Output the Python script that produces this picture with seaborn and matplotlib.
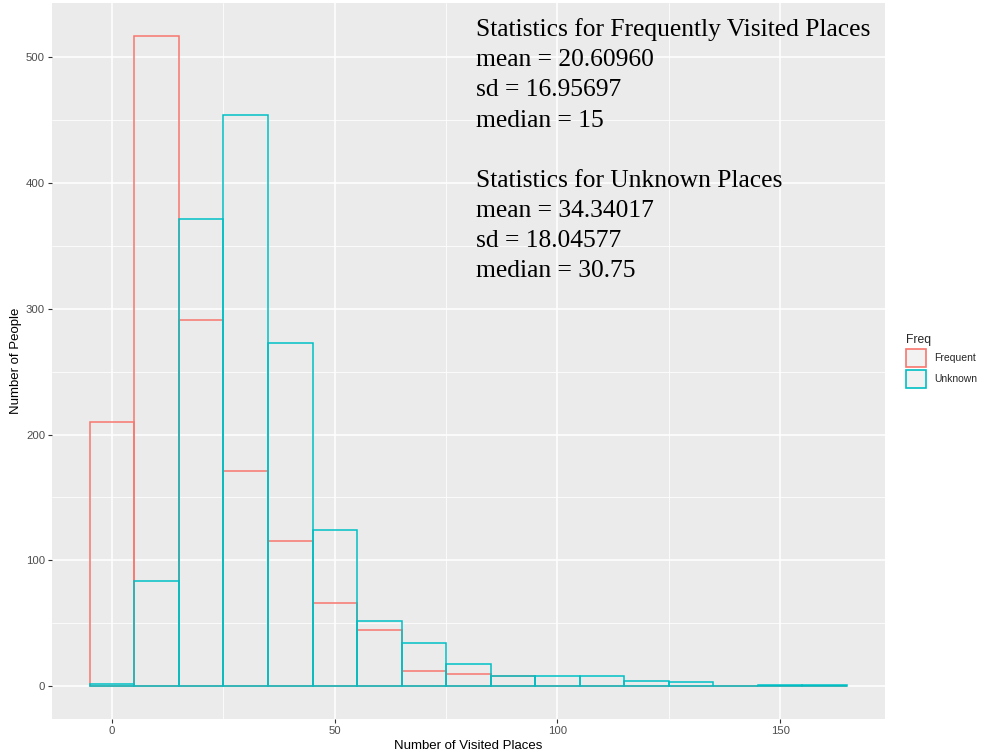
import matplotlib
matplotlib.use("Agg")
import matplotlib.pyplot as plt
import seaborn as sns
import numpy as np
import pandas as pd
from matplotlib.patches import Patch
from matplotlib.ticker import MultipleLocator

bin_centers = [0, 10, 20, 30, 40, 50, 60, 70, 80, 90, 100, 110, 120, 130, 140, 150, 160]
frequent_counts = [210, 517, 291, 171, 115, 66, 45, 12, 10, 8, 0, 0, 0, 0, 0, 0, 0]
unknown_counts = [2, 84, 371, 454, 273, 124, 52, 34, 18, 8, 8, 8, 4, 3, 0, 1, 1]
series_names = ["Frequent", "Unknown"]
series_colors = ["#F8766D", "#00BFC4"]
x_ticks = [0, 50, 100, 150]
y_ticks = [0, 100, 200, 300, 400, 500]

stats_text = ("Statistics for Frequently Visited Places\n"
              "mean = 20.60960\n"
              "sd = 16.95697\n"
              "median = 15\n"
              "\n"
              "Statistics for Unknown Places\n"
              "mean = 34.34017\n"
              "sd = 18.04577\n"
              "median = 30.75")

df = pd.DataFrame({
    "x": bin_centers * 2,
    "count": frequent_counts + unknown_counts,
    "Freq": [series_names[0]] * len(bin_centers) + [series_names[1]] * len(bin_centers),
})

sns.set_theme(style="darkgrid")
plt.rcParams["font.family"] = ["Liberation Sans", "DejaVu Sans"]

fig = plt.figure(figsize=(9.82, 7.55), dpi=100)
ax = fig.add_axes([0.053, 0.048, 0.848, 0.948])
ax.set_facecolor("#EBEBEB")

for name, col in zip(series_names, series_colors):
    sub = df[df["Freq"] == name]
    sns.histplot(data=sub, x="x", weights="count", binwidth=10, binrange=(-5, 165),
                 fill=False, element="bars", color=col, linewidth=1.1, ax=ax)

ax.set_xlim(-13.5, 173.5)
ax.set_ylim(-25.85, 542.85)
ax.set_xticks(x_ticks)
ax.set_yticks(y_ticks)
ax.xaxis.set_minor_locator(MultipleLocator(25))
ax.yaxis.set_minor_locator(MultipleLocator(50))
ax.grid(which="major", color="white", linewidth=1.1)
ax.grid(which="minor", color="white", linewidth=0.55)
ax.set_axisbelow(True)
for s in ax.spines.values():
    s.set_visible(False)
ax.tick_params(axis="both", which="major", length=3, width=0.8, color="#333333",
               labelsize=8.2, labelcolor="#4D4D4D", pad=2, bottom=True, left=True)
ax.tick_params(axis="both", which="minor", length=0)

ax.set_xlabel("Number of Visited Places", fontsize=9.5, color="black", labelpad=3)
ax.set_ylabel("Number of People", fontsize=9.5, color="black", labelpad=3)

ax.text(0.509, 0.979, stats_text, transform=ax.transAxes, ha="left", va="top",
        family="Liberation Serif", fontsize=18.4, linespacing=1.48, color="black")

handles = [Patch(facecolor="#F2F2F2", edgecolor=c, linewidth=1.2, label=n)
           for n, c in zip(series_names, series_colors)]
leg = fig.legend(handles=handles, title="Freq", loc="upper left",
                 bbox_to_anchor=(0.9226, 0.5580), frameon=False, fontsize=7.5,
                 title_fontsize=8.7, handlelength=1.93, handleheight=2.2,
                 handletextpad=0.75, labelspacing=0.35, borderaxespad=0,
                 borderpad=0)
leg._legend_box.align = "left"

fig.savefig("out.png", dpi=100)
